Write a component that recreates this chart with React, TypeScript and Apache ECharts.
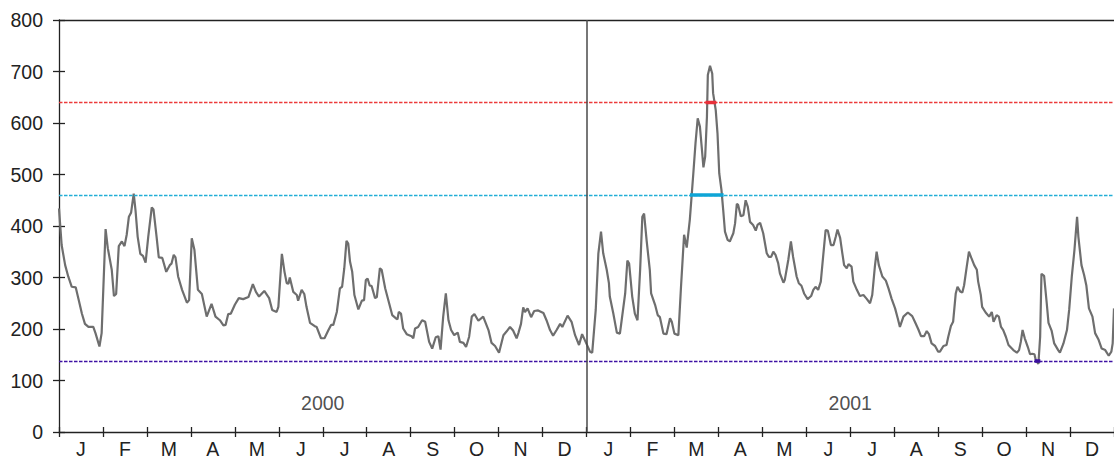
import React, { useEffect, useRef } from "react";
import * as echarts from "echarts";

const monthLabels = ["J", "F", "M", "A", "M", "J", "J", "A", "S", "O", "N", "D"];
const yearLabels = ["2000", "2001"];

const thresholds = [
  { value: 640, color: "#ec3b3b", mark: "#e8303a", above: true },
  { value: 460, color: "#22aed6", mark: "#0ea5d6", above: true },
  { value: 138, color: "#3f12a3", mark: "#3a0e9e", above: false },
];

// [month since Jan 2000, value]
const flow2000: [number, number][] = [
  [0.0, 434], [0.06, 363], [0.14, 324], [0.21, 302], [0.29, 282], [0.38, 281], [0.45, 256], [0.52, 230],
  [0.59, 210], [0.67, 204], [0.78, 204], [0.83, 192], [0.92, 166], [0.97, 192], [1.06, 394], [1.11, 357],
  [1.2, 315], [1.25, 264], [1.3, 268], [1.36, 361], [1.43, 370], [1.49, 361], [1.54, 383], [1.59, 418],
  [1.64, 426], [1.7, 463], [1.74, 431], [1.79, 379], [1.85, 346], [1.91, 342], [1.97, 329], [2.03, 379],
  [2.11, 436], [2.15, 432], [2.22, 379], [2.27, 339], [2.35, 338], [2.44, 311], [2.52, 324], [2.56, 327],
  [2.61, 344], [2.65, 339], [2.71, 302], [2.8, 276], [2.91, 251], [2.96, 256], [3.02, 376], [3.08, 354],
  [3.16, 276], [3.25, 268], [3.36, 224], [3.47, 249], [3.56, 224], [3.66, 217], [3.74, 207], [3.79, 208],
  [3.85, 229], [3.91, 230], [4.0, 247], [4.09, 260], [4.19, 258], [4.31, 262], [4.41, 287], [4.48, 272],
  [4.55, 263], [4.67, 274], [4.78, 260], [4.85, 237], [4.95, 233], [4.99, 243], [5.07, 346], [5.13, 311],
  [5.18, 289], [5.22, 288], [5.25, 300], [5.33, 272], [5.41, 266], [5.44, 255], [5.52, 276], [5.58, 268],
  [5.63, 243], [5.71, 212], [5.81, 206], [5.86, 204], [5.96, 182], [6.04, 182], [6.13, 198], [6.19, 208],
  [6.24, 208], [6.32, 233], [6.39, 279], [6.44, 282], [6.49, 318], [6.54, 371], [6.58, 366], [6.62, 331],
  [6.67, 311], [6.72, 266], [6.81, 238], [6.89, 255], [6.94, 256], [6.98, 295], [7.02, 298], [7.07, 284],
  [7.11, 284], [7.19, 260], [7.23, 262], [7.3, 318], [7.34, 315], [7.42, 279], [7.51, 250], [7.58, 227],
  [7.66, 221], [7.7, 219], [7.73, 233], [7.78, 230], [7.83, 201], [7.91, 190], [8.02, 186], [8.06, 182],
  [8.1, 201], [8.17, 204], [8.26, 217], [8.33, 214], [8.42, 175], [8.49, 162], [8.57, 184], [8.63, 186],
  [8.68, 160], [8.74, 224], [8.8, 269], [8.86, 217], [8.92, 198], [8.99, 188], [9.07, 193], [9.12, 175],
  [9.2, 173], [9.26, 165], [9.33, 185], [9.39, 224], [9.45, 229], [9.54, 216], [9.65, 224], [9.77, 198],
  [9.84, 173], [9.92, 167], [10.01, 154], [10.11, 188], [10.18, 195], [10.26, 204], [10.33, 197], [10.41, 182],
  [10.45, 192], [10.51, 210], [10.56, 242], [10.6, 233], [10.66, 240], [10.74, 223], [10.81, 235], [10.9, 236],
  [11.02, 231], [11.09, 217], [11.17, 198], [11.24, 187], [11.32, 198], [11.4, 210], [11.45, 204], [11.57, 226],
  [11.66, 214], [11.74, 188], [11.83, 169], [11.9, 190], [11.98, 175],
];

const flow2001: [number, number][] = [
  [12.08, 156], [12.13, 154], [12.21, 237], [12.27, 347], [12.33, 389], [12.38, 347], [12.46, 315], [12.51, 289],
  [12.53, 263], [12.61, 230], [12.69, 193], [12.76, 191], [12.8, 217], [12.88, 269], [12.93, 333], [12.97, 327],
  [13.04, 263], [13.1, 230], [13.16, 217], [13.22, 315], [13.27, 418], [13.31, 424], [13.37, 370], [13.44, 315],
  [13.47, 269], [13.56, 247], [13.62, 227], [13.67, 223], [13.75, 191], [13.82, 190], [13.9, 221], [13.94, 214],
  [14.0, 191], [14.09, 188], [14.15, 282], [14.22, 383], [14.28, 358], [14.35, 412], [14.43, 502], [14.48, 561],
  [14.53, 609], [14.58, 593], [14.62, 554], [14.66, 514], [14.7, 535], [14.74, 612], [14.76, 693], [14.81, 711],
  [14.86, 696], [14.88, 658], [14.94, 625], [14.98, 580], [15.02, 502], [15.07, 470], [15.11, 431], [15.15, 389],
  [15.21, 373], [15.26, 370], [15.34, 386], [15.38, 405], [15.42, 443], [15.45, 441], [15.51, 419], [15.57, 421],
  [15.62, 450], [15.67, 437], [15.72, 408], [15.79, 402], [15.85, 391], [15.89, 402], [15.95, 406], [16.02, 386],
  [16.1, 347], [16.15, 340], [16.2, 340], [16.25, 350], [16.3, 344], [16.36, 328], [16.4, 308], [16.48, 290],
  [16.51, 295], [16.59, 334], [16.65, 370], [16.7, 340], [16.78, 302], [16.83, 289], [16.89, 284], [16.95, 269],
  [17.03, 258], [17.11, 264], [17.16, 276], [17.21, 282], [17.27, 276], [17.33, 292], [17.39, 347], [17.44, 392],
  [17.49, 391], [17.56, 363], [17.62, 363], [17.67, 379], [17.71, 393], [17.77, 377], [17.82, 347], [17.86, 324],
  [17.92, 318], [17.96, 326], [18.03, 321], [18.07, 292], [18.15, 276], [18.22, 264], [18.3, 266], [18.37, 259],
  [18.45, 250], [18.5, 266], [18.56, 321], [18.6, 350], [18.65, 324], [18.73, 302], [18.81, 294], [18.87, 279],
  [18.94, 259], [19.02, 240], [19.08, 221], [19.13, 204], [19.21, 224], [19.31, 232], [19.41, 225], [19.47, 214],
  [19.55, 199], [19.61, 186], [19.68, 186], [19.74, 196], [19.79, 190], [19.85, 172], [19.93, 167], [20.0, 156],
  [20.04, 156], [20.12, 167], [20.19, 169], [20.23, 185], [20.29, 206], [20.34, 214], [20.4, 269], [20.44, 282],
  [20.5, 273], [20.55, 271], [20.59, 285], [20.65, 321], [20.7, 350], [20.75, 339], [20.82, 324], [20.88, 315],
  [20.91, 292], [20.97, 266], [21.0, 243], [21.08, 232], [21.16, 224], [21.22, 233], [21.26, 214], [21.33, 227],
  [21.38, 224], [21.43, 204], [21.48, 198], [21.54, 185], [21.6, 169], [21.71, 159], [21.79, 154], [21.84, 159],
  [21.88, 175], [21.92, 198], [21.97, 182], [22.04, 165], [22.09, 151], [22.14, 152], [22.19, 151], [22.22, 140],
  [22.28, 132], [22.32, 185], [22.35, 307], [22.41, 303], [22.47, 250], [22.51, 212], [22.58, 197], [22.64, 172],
  [22.73, 159], [22.77, 154], [22.85, 172], [22.93, 198], [22.98, 237], [23.04, 302], [23.1, 353], [23.16, 418],
  [23.19, 379], [23.26, 324], [23.32, 305], [23.37, 285], [23.43, 240], [23.51, 224], [23.57, 192], [23.65, 179],
  [23.72, 162], [23.8, 159], [23.88, 148], [23.94, 156], [23.97, 172], [24.0, 240],
];

const FONT = "'Liberation Sans', Arial, sans-serif";
const AXIS = "#222222";
const FS = 19.5;

function crossingSpans(pts: [number, number][], thr: number, above: boolean) {
  const cond = (v: number) => (above ? v > thr : v < thr);
  const res: [number, number][] = [];
  let start: number | null = cond(pts[0][1]) ? pts[0][0] : null;
  for (let i = 1; i < pts.length; i++) {
    const [px, pv] = pts[i - 1];
    const [x, v] = pts[i];
    const pc = cond(pv);
    const c = cond(v);
    if (c !== pc) {
      const xc = px + ((x - px) * (thr - pv)) / (v - pv);
      if (c) start = xc;
      else if (start !== null) {
        res.push([start, xc]);
        start = null;
      }
    }
  }
  if (start !== null) res.push([start, pts[pts.length - 1][0]]);
  return res;
}

export default function App() {
  const ref = useRef<HTMLDivElement>(null);

  useEffect(() => {
    if (!ref.current) return;
    const chart = echarts.init(ref.current, undefined, { renderer: "svg" });
    const flow = [...flow2000, ...flow2001];
    const nMonths = monthLabels.length * yearLabels.length;
    const monthCats = yearLabels.flatMap(() => monthLabels);

    const highlightSeries: any[] = [];
    thresholds.forEach((t) => {
      crossingSpans(flow, t.value, t.above).forEach(([a, b]) => {
        highlightSeries.push({
          type: "line",
          xAxisIndex: 0,
          yAxisIndex: 0,
          data: [
            [a, t.value],
            [b, t.value],
          ],
          showSymbol: false,
          silent: true,
          z: 5,
          lineStyle: { color: t.mark, width: 3.5, cap: "square" },
        });
      });
    });

    const valueX = (extra: any) => ({
      type: "value",
      min: 0,
      max: nMonths,
      interval: 1,
      axisLabel: { show: false },
      splitLine: { show: false },
      ...extra,
    });

    const option: any = {
      animation: false,
      grid: { left: 59, right: 0, top: 20, bottom: 32, containLabel: false },
      xAxis: [
        valueX({
          position: "bottom",
          axisLine: { show: true, onZero: false, lineStyle: { color: AXIS, width: 1.3 } },
          axisTick: { show: true, length: 5, lineStyle: { color: AXIS, width: 1.3 } },
        }),
        valueX({
          position: "bottom",
          axisLine: { show: false, onZero: false },
          axisTick: { show: true, inside: true, length: 5, lineStyle: { color: AXIS, width: 1.3 } },
        }),
        {
          type: "category",
          data: monthCats,
          position: "bottom",
          boundaryGap: true,
          axisLine: { show: false, onZero: false },
          axisTick: { show: false },
          splitLine: { show: false },
          axisLabel: { interval: 0, margin: 7, fontSize: FS, color: AXIS, fontFamily: FONT },
        },
        valueX({
          position: "top",
          axisLine: { show: true, onZero: false, lineStyle: { color: AXIS, width: 1.3 } },
          axisTick: { show: false },
        }),
      ],
      yAxis: [
        {
          type: "value",
          min: 0,
          max: 800,
          interval: 100,
          position: "left",
          axisLine: { show: true, onZero: false, lineStyle: { color: AXIS, width: 1.3 } },
          axisTick: { show: true, length: 6, lineStyle: { color: AXIS, width: 1.3 } },
          axisLabel: { fontSize: FS, color: AXIS, fontFamily: FONT, margin: 16 },
          splitLine: { show: false },
        },
        {
          type: "value",
          min: 0,
          max: 800,
          interval: 100,
          position: "left",
          axisLine: { show: false, onZero: false },
          axisTick: { show: true, inside: true, length: 6, lineStyle: { color: AXIS, width: 1.3 } },
          axisLabel: { show: false },
          splitLine: { show: false },
        },
      ],
      series: [
        {
          type: "line",
          xAxisIndex: 0,
          yAxisIndex: 0,
          data: flow,
          showSymbol: false,
          z: 3,
          lineStyle: { color: "#6e6e6e", width: 2.2 },
          markLine: {
            silent: true,
            symbol: "none",
            label: { show: false },
            data: [
              ...thresholds.map((t) => ({
                yAxis: t.value,
                lineStyle: { color: t.color, type: [3.5, 1.5], width: 1.3 },
              })),
              { xAxis: nMonths / 2, lineStyle: { color: "#4a4a4a", type: "solid", width: 1.5 } },
            ],
          },
        },
        ...highlightSeries,
        {
          type: "scatter",
          xAxisIndex: 0,
          yAxisIndex: 0,
          symbolSize: 0,
          silent: true,
          data: yearLabels.map((y, i) => ({ name: y, value: [i * 12 + 6, 57] })),
          label: {
            show: true,
            position: "inside",
            formatter: (p: any) => p.name,
            fontSize: FS,
            color: AXIS,
            fontFamily: FONT,
          },
        },
      ],
    };

    chart.setOption(option);
    return () => chart.dispose();
  }, []);

  return (
    <div
      ref={ref}
      style={{ position: "absolute", left: 0, top: 0, width: 1114, height: 464, background: "#fff" }}
    />
  );
}
